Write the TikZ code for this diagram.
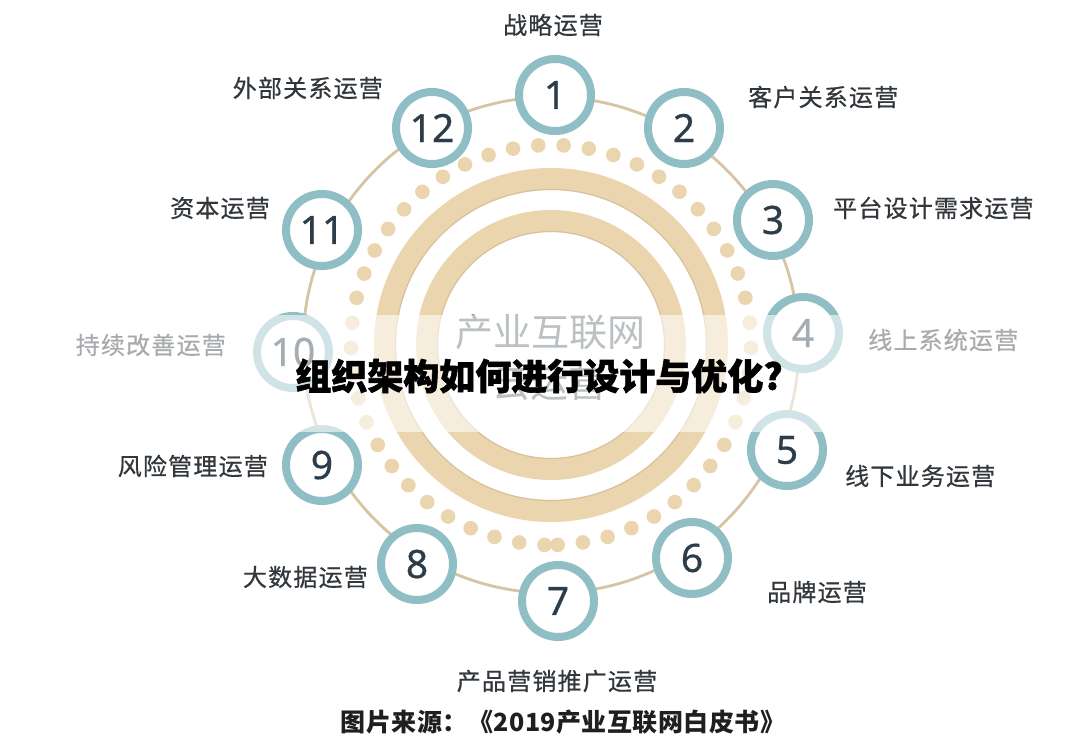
\documentclass[tikz,border=0pt]{standalone}
\usepackage{fontspec}
\usetikzlibrary{calc}
\newfontfamily\cjk{Noto Sans CJK SC}[LetterSpace=5, FakeBold=0.6]
\newfontfamily\cjkt{Noto Sans CJK SC}
\newfontfamily\cjkc{Noto Sans CJK SC}[LetterSpace=2]
\newfontfamily\cjkh{Noto Sans CJK SC}[BoldFeatures={FakeBold=1.6}]
\newfontfamily\numf{Noto Sans}[FakeBold=0.6]
\definecolor{ringc}{HTML}{8FBEC5}
\definecolor{numc}{HTML}{2C3D49}
\definecolor{labc}{HTML}{32373C}
\definecolor{tanc}{HTML}{EAD5AE}
\definecolor{tanline}{HTML}{D6C4A4}
\definecolor{tanshadow}{HTML}{C9B48E}
\definecolor{centc}{HTML}{5E6970}
\tikzset{
  numnode/.style={circle, draw=ringc, line width=8pt, fill=white, minimum size=72pt, inner sep=0pt,
    font=\numf\fontsize{39}{39}\selectfont, text=numc},
  lab/.style={font=\cjk\fontsize{24}{24}\selectfont, text=labc, inner sep=0pt},
  dotc/.style={fill=tanc},
}
\begin{document}
\begin{tikzpicture}[x=1pt,y=-1pt]
\useasboundingbox (0,0) rectangle (1080,748);
\fill[white] (0,0) rectangle (1080,748);
\coordinate (c) at (551,345);
% outer thin circle
\draw[tanline, line width=2.8pt] (c) circle[radius=248];
% thick rings
\draw[tanc, line width=22pt] (c) circle[radius=166];
\draw[tanc, line width=22pt] (c) circle[radius=124];
\draw[tanshadow, line width=1.2pt, opacity=0.6] (c) circle[radius=155.5];
\draw[tanshadow, line width=1.2pt, opacity=0.6] (c) circle[radius=113.5];
% dotted ring
\foreach \i in {0,...,49}{
  \pgfmathsetmacro{\a}{90-1.9-\i*7.27}
  \fill[dotc] ($(c)+(\a:200)$) circle[radius=7.3];
}
% centre text
\node[font=\cjkt\fontsize{38}{38}\selectfont, text=centc, inner sep=0pt] (ct1) at (550,332) {产业互联网};
\node[font=\cjkt\fontsize{38}{38}\selectfont, text=centc, inner sep=0pt] (ct2) at (549,383) {云运营};
% numbered nodes
\node[numnode] (n1) at (555,95) {1};
\node[numnode] (n2) at (684,128) {2};
\node[numnode] (n3) at (773,220) {3};
\node[numnode] (n4) at (803,333) {4};
\node[numnode] (n5) at (787,450) {5};
\node[numnode] (n6) at (692,558) {6};
\node[numnode] (n7) at (558,601) {7};
\node[numnode] (n8) at (417,564) {8};
\node[numnode] (n9) at (322,465) {9};
\node[numnode] (n10) at (293,352) {10};
\node[numnode] (n11) at (322,230) {11};
\node[numnode] (n12) at (432,128) {12};
% labels
\node[lab] (l1) at (553,25) {战略运营};
\node[lab, anchor=west] (l2) at (748,97) {客户关系运营};
\node[lab, anchor=west] (l3) at (833,208) {平台设计需求运营};
\node[lab, anchor=west] (l4) at (868,340) {线上系统运营};
\node[lab, anchor=west] (l5) at (845,476) {线下业务运营};
\node[lab, anchor=west] (l6) at (767,592) {品牌运营};
\node[lab] (l7) at (557,681) {产品营销推广运营};
\node[lab, anchor=east] (l8) at (368,577) {大数据运营};
\node[lab, anchor=east] (l9) at (268,466) {风险管理运营};
\node[lab, anchor=east] (l10) at (226,345) {持续改善运营};
\node[lab, anchor=east] (l11) at (270,208) {资本运营};
\node[lab, anchor=east] (l12) at (383,88) {外部关系运营};
% translucent band
\fill[white, opacity=0.58] (0,315) rectangle (1080,432);
% title
\node[font=\cjkh\bfseries\fontsize{36}{36}\selectfont, text=black, inner sep=0pt] (title) at (539,376) {组织架构如何进行设计与优化?};
% caption
\node[font=\cjkc\bfseries\fontsize{25}{25}\selectfont, text=black!88, inner sep=0pt] (cap) at (563,722) {图片来源：《2019产业互联网白皮书》};
\end{tikzpicture}
\end{document}
